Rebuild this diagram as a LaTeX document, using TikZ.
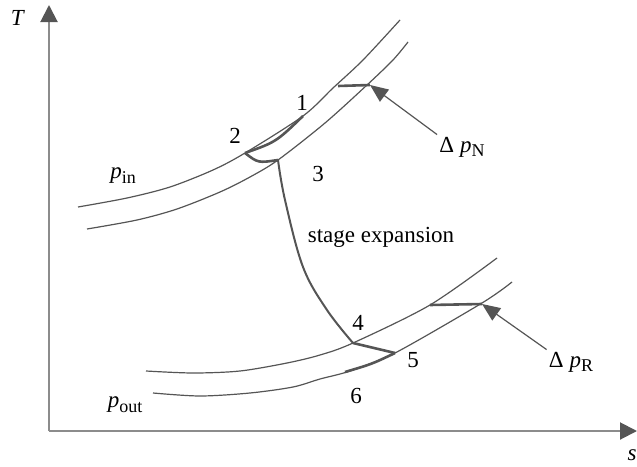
\documentclass[tikz,border=0pt]{standalone}
\usepackage{fontspec}
\setmainfont{Liberation Serif}
\usetikzlibrary{arrows.meta}
\definecolor{linegray}{HTML}{555555}
\definecolor{axisgray}{HTML}{8C8C8C}
\tikzset{isobar/.style={draw=linegray,line width=0.6pt},proc/.style={draw=linegray,line width=1.3pt},
 lbl/.style={font=\fontsize{11.5}{13}\selectfont,inner sep=1pt},
 arr/.style={draw=linegray,line width=0.6pt,-{Triangle[length=9pt,width=7.5pt,color=linegray]}},
 axis/.style={draw=axisgray,line width=1pt,-{Triangle[length=8.5pt,width=8.5pt,color=linegray]}}}
\newcommand{\psub}[1]{\textit{p}\raisebox{-0.45ex}{\fontsize{9}{10}\selectfont #1}}

\begin{document}
\begin{tikzpicture}[x=0.5pt,y=-0.5pt]
\useasboundingbox (0,0) rectangle (637,466);
% axes
\coordinate (o) at (49,431);
\coordinate (ytip) at (49,5);
\coordinate (xtip) at (637,431);
\draw[axis] (o) -- (ytip);
\draw[axis] (o) -- (xtip);
\node[lbl] (T) at (18,18) {\textit{T}};
\node[lbl] (s) at (632,455) {\textit{s}};
% isobars
\draw[isobar] plot[smooth,tension=0.5] coordinates {(78,207) (127,198) (170,187) (213,170) (245,153) (303,116) (333,88) (363,60) (400,20)};
\draw[isobar] plot[smooth,tension=0.5] coordinates {(87,229) (137,220) (177,209) (220,192) (250,177) (278,160) (325,123) (367,85) (393,60) (408,42)};
\draw[isobar] plot[smooth,tension=0.5] coordinates {(146,371) (193,373) (240,371) (287,363) (320,355) (353,343) (430,305) (497,258)};
\draw[isobar] plot[smooth,tension=0.5] coordinates {(153,393) (200,396) (250,393) (293,387) (320,379) (350,371) (395,353) (482,303) (512,282)};
% state points
\coordinate (c1) at (303,116);
\coordinate (c2) at (245,153);
\coordinate (c3) at (278,160);
\coordinate (c4) at (353,343);
\coordinate (c5) at (395,353);
\coordinate (c6) at (345,372);
\coordinate (aN) at (338,86);
\coordinate (nN) at (370,85);
\coordinate (aR) at (430,305);
\coordinate (nR) at (482,304);
% process lines
\draw[proc] (c2) .. controls (276,142) .. (c1);
\draw[proc] (c2) .. controls (258,163) .. (c3);
\draw[draw=linegray,line width=1pt] plot[smooth,tension=0.6] coordinates {(c3) (285,200) (303,267) (327,310) (c4)};
\draw[proc] (c4) -- (c5);
\draw[proc] (c6) .. controls (372,364) .. (c5);
\draw[proc] (aN) -- (nN);
\draw[proc] (aR) -- (nR);
% labels
\node[lbl] (l1) at (302,103) {1};
\node[lbl] (l2) at (235,136) {2};
\node[lbl] (l3) at (318,174) {3};
\node[lbl] (l4) at (358,323) {4};
\node[lbl] (l5) at (413,360) {5};
\node[lbl] (l6) at (356,396) {6};
\node[lbl] (pin) at (123,176) {\psub{in}};
\node[lbl] (pout) at (125,405) {\psub{out}};
\node[lbl] (exp) at (381,237) {stage expansion};
\node[lbl] (dpN) at (462,147) {Δ \psub{N}};
\node[lbl] (dpR) at (571,362) {Δ \psub{R}};
\draw[arr] (dpN.north west) -- (nN);
\draw[arr] (dpR.north west) -- (nR);
\end{tikzpicture}
\end{document}
